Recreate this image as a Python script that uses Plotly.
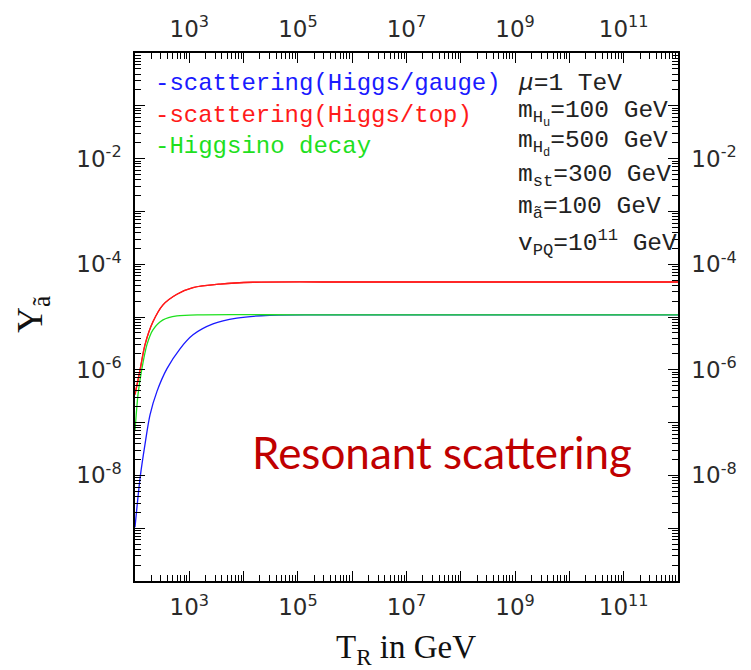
import plotly.graph_objects as go

# Axion yield vs reheating temperature (GeV)
t_gauge = [100, 124, 153, 189, 254, 388, 674, 1170, 2730, 7500, 3.0e4, 2.5e5, 1e7, 1e12]
y_gauge = [1.04e-9, 8.9e-9, 3.9e-8, 1.4e-7, 3.9e-7, 1.05e-6, 2.5e-6, 4.6e-6,
           7.4e-6, 9.5e-6, 1.08e-5, 1.1e-5, 1.1e-5, 1.1e-5]

t_top = [100, 124, 153, 214, 328, 592, 1170, 3700, 1.5e4, 1e6, 1e9, 1e12]
y_top = [3.4e-7, 1.0e-6, 3.0e-6, 8.1e-6, 1.7e-5, 2.7e-5, 3.6e-5, 4.2e-5,
         4.55e-5, 4.6e-5, 4.6e-5, 4.6e-5]

t_decay = [100, 113.6, 134, 166, 214, 328, 592, 1800, 1e5, 1e8, 1e12]
y_decay = [6.9e-8, 3.4e-7, 1.05e-6, 3.0e-6, 5.7e-6, 8.8e-6, 1.05e-5, 1.1e-5,
           1.1e-5, 1.1e-5, 1.1e-5]

x_exps = list(range(2, 13))
y_exps = list(range(-10, 1))
x_label_exps = [3, 5, 7, 9, 11]
y_label_exps = [-2, -4, -6, -8]

legend_texts = ["-scattering(Higgs/gauge)", "-scattering(Higgs/top)", "-Higgsino decay"]
param_texts = [
    "<i>μ</i>=1 TeV",
    "m<sub>H<sub>u</sub></sub>=100 GeV",
    "m<sub>H<sub>d</sub></sub>=500 GeV",
    "m<sub>st</sub>=300 GeV",
    "m<sub>ã</sub>=100 GeV",
    "v<sub>PQ</sub>=10<sup>11</sup> GeV",
]

BLUE = "#1a1aff"
RED = "#ff1a1a"
GREEN = "#1ee01e"

fig = go.Figure()
fig.add_trace(go.Scatter(x=t_gauge, y=y_gauge, mode="lines",
                         line=dict(color=BLUE, width=1.3, shape="spline", smoothing=0.8)))
fig.add_trace(go.Scatter(x=t_top, y=y_top, mode="lines",
                         line=dict(color=RED, width=1.3, shape="spline", smoothing=0.8)))
fig.add_trace(go.Scatter(x=t_decay, y=y_decay, mode="lines",
                         line=dict(color=GREEN, width=1.3, shape="spline", smoothing=0.8)))

x_major = [10.0 ** k for k in x_exps]
x_text = ["10<sup>%d</sup>" % k if k in x_label_exps else "" for k in x_exps]
x_minor = [m * 10.0 ** k for k in x_exps[:-1] for m in range(2, 10)]
y_major = [10.0 ** k for k in y_exps]
y_text = ["10<sup>%d</sup>" % k if k in y_label_exps else "" for k in y_exps]
y_minor = [m * 10.0 ** k for k in y_exps[:-1] for m in range(2, 10)]

tick_font = dict(family="DejaVu Sans", size=23, color="#2a2a2a")

def xax(side, anchor, overlay=None):
    d = dict(type="log", range=[2, 12], side=side, anchor=anchor,
             tickmode="array", tickvals=x_major, ticktext=x_text,
             ticks="inside", ticklen=10, tickwidth=1, tickcolor="black",
             minor=dict(tickmode="array", tickvals=x_minor, ticks="inside",
                        ticklen=6, tickwidth=1, tickcolor="black"),
             showline=True, linecolor="black", linewidth=1.5,
             showgrid=False, zeroline=False, tickfont=tick_font, ticklabelstandoff=5)
    if overlay:
        d["overlaying"] = overlay
    return d

def yax(side, anchor, overlay=None):
    d = dict(type="log", range=[-10, 0], side=side, anchor=anchor,
             tickmode="array", tickvals=y_major, ticktext=y_text,
             ticks="inside", ticklen=10, tickwidth=1, tickcolor="black",
             minor=dict(tickmode="array", tickvals=y_minor, ticks="inside",
                        ticklen=6, tickwidth=1, tickcolor="black"),
             showline=True, linecolor="black", linewidth=1.5,
             showgrid=False, zeroline=False, tickfont=tick_font, ticklabelstandoff=7)
    if overlay:
        d["overlaying"] = overlay
    return d

fig.update_layout(
    width=751, height=670,
    margin=dict(l=135, r=73, t=49, b=89),
    paper_bgcolor="white", plot_bgcolor="white",
    showlegend=False,
    xaxis=xax("bottom", "y"),
    yaxis=yax("left", "x"),
    xaxis2=xax("top", "y", "x"),
    yaxis2=yax("right", "x", "y"),
)
# keep the mirrored axes live by binding the top-quark curve to them too
fig.add_trace(go.Scatter(x=t_top, y=y_top, mode="lines", xaxis="x2", yaxis="y2",
                         line=dict(color=RED, width=1.3, shape="spline", smoothing=0.8),
                         hoverinfo="skip"))

PW, PH, L, T = 543.0, 532.0, 135.0, 49.0

def px(x):
    return (x - L) / PW

def py(y):
    return 1 - (y - T) / PH

mono = "Liberation Mono"
for txt, col, yy in zip(legend_texts, [BLUE, RED, GREEN], [80, 112, 143]):
    fig.add_annotation(text=txt, x=px(153), y=py(yy), xref="paper", yref="paper",
                       xanchor="left", yanchor="middle", showarrow=False,
                       font=dict(family=mono, size=24, color=col))

for txt, yy in zip(param_texts, [80, 110, 140, 173, 205, 240]):
    fig.add_annotation(text=txt, x=px(516), y=py(yy), xref="paper", yref="paper",
                       xanchor="left", yanchor="middle", showarrow=False,
                       font=dict(family=mono, size=24.5, color="#222222"))

fig.add_annotation(text="Resonant scattering", x=px(442), y=py(451), xref="paper", yref="paper",
                   xanchor="center", yanchor="middle", showarrow=False,
                   font=dict(family="Lato", size=44, color="#c00000"))

fig.add_annotation(text="T<sub>R</sub> in GeV", x=px(406), y=py(650), xref="paper", yref="paper",
                   xanchor="center", yanchor="middle", showarrow=False,
                   font=dict(family="Liberation Serif", size=33, color="#111111"))

fig.add_annotation(text="Y<sub>ã</sub>", x=px(32), y=py(313), xref="paper", yref="paper",
                   xanchor="center", yanchor="middle", showarrow=False, textangle=-90,
                   font=dict(family="Liberation Serif", size=36, color="#111111"))

fig.write_html("out.html")
